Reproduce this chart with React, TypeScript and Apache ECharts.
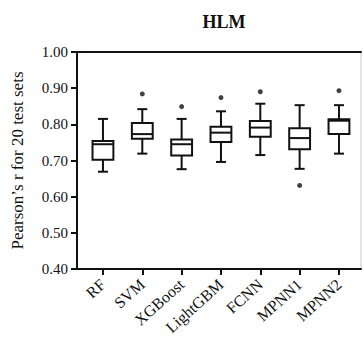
import React, { useEffect, useRef } from "react";
import * as echarts from "echarts";

const categories = ["RF", "SVM", "XGBoost", "LightGBM", "FCNN", "MPNN1", "MPNN2"];
const whiskerLow = [0.669, 0.719, 0.676, 0.696, 0.715, 0.677, 0.719];
const q1 = [0.702, 0.76, 0.714, 0.751, 0.766, 0.731, 0.773];
const median = [0.745, 0.773, 0.745, 0.777, 0.791, 0.762, 0.81];
const q3 = [0.754, 0.804, 0.758, 0.793, 0.809, 0.789, 0.814];
const whiskerHigh = [0.815, 0.842, 0.815, 0.836, 0.857, 0.853, 0.853];
const outliers: [number, number][] = [
  [1, 0.884],
  [2, 0.849],
  [3, 0.874],
  [4, 0.89],
  [5, 0.631],
  [6, 0.893],
];
const yTicks = [0.4, 0.5, 0.6, 0.7, 0.8, 0.9, 1.0];

const FONT = "Liberation Serif";
const INK = "#111";

export default function App() {
  const ref = useRef<HTMLDivElement>(null);
  useEffect(() => {
    if (!ref.current) return;
    document.body.style.margin = "0";
    const chart = echarts.init(ref.current, undefined, { renderer: "svg" });
    const boxData = categories.map((_, i) => [i, whiskerLow[i], q1[i], median[i], q3[i], whiskerHigh[i]]);
    const idx = categories.map((_, i) => i);
    chart.setOption({
      animation: false,
      title: {
        text: "HLM",
        left: 219,
        top: 8,
        textAlign: "center",
        textStyle: { fontFamily: FONT, fontSize: 18, fontWeight: "bold", color: INK },
      },
      grid: {
        left: 77,
        right: 3,
        top: 52,
        bottom: 76,
        show: true,
        borderColor: "#c8c8c8",
        borderWidth: 1,
      },
      xAxis: [
        {
          type: "value",
          min: -0.66,
          max: 6.56,
          position: "bottom",
          splitLine: { show: false },
          axisLine: { show: true, onZero: false, lineStyle: { color: INK, width: 2 } },
          axisTick: { show: true, customValues: idx, length: 6, lineStyle: { color: INK, width: 2 } },
          axisLabel: {
            customValues: idx,
            formatter: (v: number) => categories[Math.round(v)] ?? "",
            rotate: 42,
            margin: 13,
            fontFamily: FONT,
            fontSize: 16,
            color: INK,
          },
        },
        {
          type: "value",
          min: -0.66,
          max: 6.56,
          position: "top",
          splitLine: { show: false },
          axisLine: { show: true, onZero: false, lineStyle: { color: INK, width: 2 } },
          axisTick: { show: false },
          axisLabel: { show: false },
        },
      ],
      yAxis: {
        type: "value",
        min: 0.4,
        max: 1.0,
        interval: 0.1,
        name: "Pearson’s r for 20 test sets",
        nameLocation: "middle",
        nameGap: 51,
        nameTextStyle: { fontFamily: FONT, fontSize: 17, color: INK },
        splitLine: { show: false },
        axisLine: { show: true, onZero: false, lineStyle: { color: INK, width: 2 } },
        axisTick: { show: true, length: 6, lineStyle: { color: INK, width: 2 } },
        axisLabel: {
          formatter: (v: number) => (yTicks.some((t) => Math.abs(t - v) < 1e-6) ? v.toFixed(2) : ""),
          margin: 9,
          fontFamily: FONT,
          fontSize: 15,
          color: INK,
        },
      },
      series: [
        {
          type: "custom",
          xAxisIndex: 0,
          data: boxData,
          renderItem: (params: any, api: any) => {
            const x = api.value(0);
            const lo = api.coord([x, api.value(1)]);
            const b1 = api.coord([x, api.value(2)]);
            const md = api.coord([x, api.value(3)]);
            const b3 = api.coord([x, api.value(4)]);
            const hi = api.coord([x, api.value(5)]);
            const band = api.size([1, 0])[0];
            const bw = band * 0.53;
            const cw = bw * 0.48;
            const cx = lo[0];
            const st = { stroke: INK, lineWidth: 2, fill: "none" };
            return {
              type: "group",
              children: [
                { type: "line", shape: { x1: cx, y1: lo[1], x2: cx, y2: b1[1] }, style: st },
                { type: "line", shape: { x1: cx, y1: b3[1], x2: cx, y2: hi[1] }, style: st },
                { type: "line", shape: { x1: cx - cw / 2, y1: lo[1], x2: cx + cw / 2, y2: lo[1] }, style: st },
                { type: "line", shape: { x1: cx - cw / 2, y1: hi[1], x2: cx + cw / 2, y2: hi[1] }, style: st },
                {
                  type: "rect",
                  shape: { x: cx - bw / 2, y: b3[1], width: bw, height: b1[1] - b3[1] },
                  style: { stroke: INK, lineWidth: 2, fill: "#fff" },
                },
                { type: "line", shape: { x1: cx - bw / 2, y1: md[1], x2: cx + bw / 2, y2: md[1] }, style: st },
              ],
            };
          },
        },
        {
          type: "scatter",
          xAxisIndex: 0,
          data: outliers,
          symbol: "circle",
          symbolSize: 5,
          itemStyle: { color: INK },
        },
      ],
    });
    return () => chart.dispose();
  }, []);
  return <div ref={ref} style={{ width: 364, height: 345 }} />;
}
